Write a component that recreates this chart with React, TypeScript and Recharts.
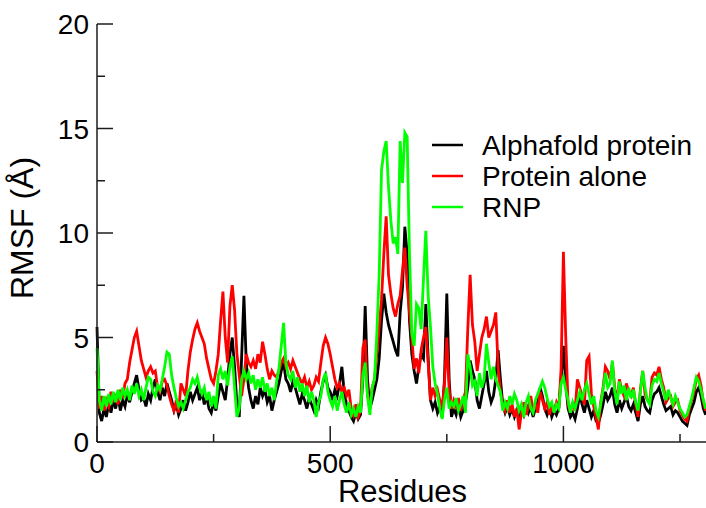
import { LineChart, Line, XAxis, YAxis, Legend } from "recharts";

// RMSF per residue, sampled every 5 residues (0 ... 1305)
const alphafold = [
  5.5, 1.4, 1.0, 1.6, 1.2, 1.8, 1.4, 2.0, 1.6, 2.2, 1.5, 2.0, 1.7, 2.3, 1.9, 2.4, 2.8, 3.2, 2.5, 2.0,
  2.1, 1.7, 2.3, 2.0, 2.6, 3.0, 2.4, 2.0, 2.6, 2.2, 2.8, 2.4, 2.0, 1.5, 1.8, 1.3, 1.6, 2.0, 1.5, 1.9,
  2.4, 2.0, 2.3, 2.6, 2.0, 2.4, 1.8, 2.2, 1.6, 1.4, 1.9, 1.5, 2.2, 2.8, 2.4, 2.0, 3.0, 4.2, 5.0, 3.6,
  1.8, 1.2, 4.0, 7.0, 3.8, 2.6, 2.0, 1.6, 2.2, 1.8, 2.6, 2.2, 2.5, 1.9, 2.2, 1.5, 2.0, 2.4, 2.8, 3.4,
  3.8, 3.0, 2.8, 2.4, 2.9, 2.6, 2.2, 1.8, 2.3, 2.0, 1.6, 2.1, 1.8, 1.5, 2.0, 1.7, 2.4, 2.9, 3.2, 2.6,
  2.4, 2.0, 2.5, 2.2, 2.8, 3.6, 2.4, 1.8, 1.5, 1.2, 1.0, 1.4, 1.1, 1.3, 3.0, 6.5, 3.0, 1.6, 2.0, 2.5,
  3.0, 4.0, 5.8, 7.1, 6.2, 5.6, 5.2, 4.8, 4.4, 4.1, 6.2, 7.4, 10.3, 9.0, 5.8, 4.2, 3.4, 2.8, 3.6, 4.2,
  4.0, 6.6, 4.0, 2.0, 1.6, 1.9, 1.4, 1.7, 1.2, 3.0, 7.1, 3.0, 1.2, 1.6, 1.3, 1.8, 1.2, 1.5, 1.9, 2.6,
  3.9, 3.4, 3.0, 2.0, 1.6, 2.2, 2.8, 3.4, 2.4, 1.9, 2.2, 3.0, 4.4, 3.0, 1.8, 1.4, 1.7, 1.3, 1.6, 1.2,
  1.5, 1.1, 1.6, 1.3, 1.8, 1.4, 1.7, 1.2, 1.6, 1.9, 2.6, 2.2, 1.6, 1.3, 1.7, 1.2, 1.5, 1.3, 1.6, 3.0,
  4.6, 2.8, 1.6, 1.2, 1.4, 1.1, 1.6, 2.3, 1.8, 1.4, 2.0, 1.6, 1.2, 1.5, 1.0, 0.9, 1.3, 1.8, 2.4, 2.0,
  2.2, 2.6, 1.8, 1.4, 2.0, 1.6, 1.9, 2.2, 1.7, 1.5, 1.8, 1.4, 1.0, 1.8, 2.2, 1.7, 1.5, 1.4, 2.0, 2.3,
  2.4, 2.6, 2.2, 1.8, 1.5, 1.6, 1.7, 1.3, 1.5, 1.4, 1.2, 1.0, 0.9, 0.8, 1.3, 1.6, 1.9, 2.4, 2.6, 2.2, 1.6, 1.3,
];

const proteinAlone = [
  3.4, 1.6, 2.2, 1.5, 2.0, 1.7, 2.4, 1.9, 2.3, 1.8, 2.5, 2.1, 2.8, 3.0, 3.8, 4.4, 5.0, 5.3, 4.6, 3.9,
  3.5, 3.1, 3.4, 3.6, 3.3, 3.4, 2.6, 2.4, 2.9, 3.0, 2.7, 2.2, 1.8, 1.5, 2.0, 1.4, 2.8, 2.5, 2.2, 3.4,
  4.3, 4.9, 5.4, 5.7, 5.3, 5.0, 4.7, 4.0, 3.5, 3.0, 2.8, 3.4, 4.2, 5.8, 7.2, 5.0, 3.8, 6.5, 7.5, 6.3,
  4.2, 3.2, 2.2, 3.0, 4.2, 3.8, 3.6, 3.9, 3.5, 4.2, 3.8, 4.8, 4.2, 3.5, 3.0, 3.4, 3.2, 3.1, 3.4, 3.8,
  4.0, 3.6, 3.8, 3.5, 3.9, 3.6, 3.3, 3.0, 2.8, 3.1, 2.6, 2.9, 2.5, 2.7, 3.1, 2.9, 3.8, 4.6, 5.0, 4.7,
  4.2, 3.6, 3.0, 2.6, 2.8, 2.4, 2.6, 2.2, 2.5, 1.6, 1.3, 1.8, 1.2, 1.5, 4.5, 4.9, 2.2, 1.8, 2.6, 3.0,
  4.2, 5.5, 6.8, 9.0, 10.8, 8.0, 7.1, 6.4, 6.0, 6.6, 7.0, 8.2, 9.3, 7.5, 6.2, 5.0, 3.5, 4.0, 3.3, 4.4,
  5.0, 5.5, 3.8, 2.0, 2.6, 2.2, 2.5, 2.0, 1.6, 2.8, 5.0, 2.5, 1.6, 2.0, 1.7, 2.1, 1.5, 2.0, 2.4, 5.4,
  8.0, 5.6, 4.8, 3.4, 4.2, 5.0, 5.4, 6.0, 5.0, 5.3, 5.6, 6.2, 3.6, 2.4, 1.8, 1.5, 2.0, 1.4, 1.8, 1.2,
  1.6, 0.6, 1.4, 1.9, 1.3, 1.7, 2.2, 1.5, 1.8, 1.4, 2.4, 2.0, 1.6, 1.9, 1.3, 1.7, 1.5, 1.9, 1.6, 3.5,
  9.1, 5.0, 1.8, 1.4, 1.9, 1.5, 3.0, 2.6, 2.2, 1.8, 3.9, 4.1, 2.3, 1.7, 1.2, 0.6, 1.9, 2.6, 3.6, 3.4,
  3.0, 3.8, 2.6, 1.9, 3.0, 2.5, 2.2, 2.8, 2.4, 2.2, 2.6, 1.8, 1.2, 2.5, 3.4, 2.3, 2.0, 1.9, 3.1, 3.3,
  3.2, 3.6, 3.0, 2.6, 1.9, 2.1, 2.2, 1.7, 1.9, 2.0, 1.5, 1.3, 1.1, 1.0, 1.6, 2.0, 2.4, 3.0, 3.2, 2.7, 1.9, 1.5,
];

const rnp = [
  4.5, 2.0, 1.5, 2.2, 1.7, 2.3, 1.8, 2.4, 1.9, 2.5, 2.0, 2.6, 2.2, 2.5, 2.0, 2.7, 2.3, 2.8, 2.2, 2.5,
  2.0, 2.6, 3.1, 3.0, 2.4, 2.2, 2.7, 2.5, 3.0, 3.6, 4.3, 4.2, 3.2, 2.6, 2.1, 1.7, 1.9, 1.6, 2.0, 2.4,
  2.6, 3.0, 2.8, 3.1, 2.6, 2.3, 2.6, 2.0, 2.4, 1.7, 2.2, 1.6, 3.2, 3.5, 3.0, 3.4, 2.7, 3.6, 4.1, 2.6,
  1.2, 1.6, 3.0, 3.4, 3.0, 3.3, 2.8, 3.2, 2.5, 3.0, 2.6, 3.1, 2.4, 2.8, 2.2, 2.6, 2.0, 2.9, 3.5, 4.6,
  5.7, 3.8, 3.2, 3.0, 3.4, 2.6, 3.1, 2.4, 2.8, 2.2, 2.7, 1.9, 2.4, 2.0, 1.2, 1.9, 2.2, 3.0, 3.3, 2.4,
  2.0, 1.7, 2.2, 1.5, 2.0, 2.4, 1.8, 1.4, 1.9, 1.3, 1.6, 1.2, 1.7, 1.4, 3.2, 3.8, 2.2, 1.3, 2.6, 3.0,
  5.2, 8.0, 13.0, 13.9, 14.4, 12.2, 10.6, 9.5, 9.8, 9.0, 14.4, 12.4, 14.8, 14.6, 9.0, 5.2, 4.6, 6.6, 6.4, 5.4,
  7.8, 10.1, 7.0, 5.5, 3.6, 2.8, 2.3, 1.6, 1.1, 2.0, 2.6, 1.6, 1.9, 1.7, 2.1, 1.5, 1.8, 2.2, 1.4, 4.2,
  3.6, 2.7, 2.9, 2.2, 3.3, 2.6, 3.0, 4.7, 3.8, 3.0, 3.6, 3.0, 2.7, 2.4, 1.5, 1.9, 1.6, 2.2, 1.8, 2.3,
  2.0, 1.5, 1.8, 1.2, 1.9, 2.2, 1.6, 1.4, 2.0, 2.3, 2.6, 2.9, 2.6, 2.1, 1.7, 1.9, 1.4, 1.8, 1.6, 2.8,
  3.1, 2.5, 2.0, 1.4, 1.9, 1.6, 2.0, 2.4, 2.0, 2.5, 2.8, 2.3, 1.8, 2.2, 1.5, 1.2, 1.8, 2.5, 3.3, 2.6,
  2.8, 3.9, 2.4, 1.8, 2.9, 2.3, 2.7, 2.0, 2.6, 2.1, 2.5, 1.9, 1.5, 2.4, 3.4, 2.6, 2.0, 1.8, 2.7, 3.0,
  2.9, 3.3, 2.8, 2.4, 2.0, 2.5, 2.1, 1.8, 2.2, 1.9, 1.6, 1.4, 1.2, 1.3, 1.7, 2.1, 2.6, 3.1, 2.9, 2.5, 2.0, 1.6,
];

const residueStep = 5;
const xDomain = [0, 1310];
const yDomain = [0, 20];
const xTicks = [0, 250, 500, 750, 1000, 1250];
const yTicks = [0, 2.5, 5, 7.5, 10, 12.5, 15, 17.5, 20];

const data = alphafold.map((v, i) => ({
  residue: i * residueStep,
  alphafold: v,
  alone: proteinAlone[i],
  rnp: rnp[i],
}));

const FONT = "'Liberation Sans', Arial, Helvetica, sans-serif";
const AXIS = "#1c1c1c";
const MAJOR = 16;
const MINOR = 8;
const LINE_W = 2.8;

const BottomTick = (props: any) => {
  const { x, y, payload } = props;
  const major = payload.value % 500 === 0;
  return (
    <g>
      <line x1={x} y1={y} x2={x} y2={y - (major ? MAJOR : MINOR)} stroke={AXIS} strokeWidth={1.5} />
      {major && (
        <text x={x} y={y + 31} textAnchor="middle" fontSize={28} fontFamily={FONT} fill="#000">
          {payload.value}
        </text>
      )}
    </g>
  );
};

const TopTick = (props: any) => {
  const { x, y, payload } = props;
  const major = payload.value % 500 === 0;
  return <line x1={x} y1={y} x2={x} y2={y + (major ? MAJOR : MINOR)} stroke={AXIS} strokeWidth={1.5} />;
};

const LeftTick = (props: any) => {
  const { x, y, payload } = props;
  const major = payload.value % 5 === 0;
  return (
    <g>
      <line x1={x} y1={y} x2={x + (major ? MAJOR : MINOR)} y2={y} stroke={AXIS} strokeWidth={1.5} />
      {major && (
        <text x={x - 8} y={y} dy="0.36em" textAnchor="end" fontSize={28} fontFamily={FONT} fill="#000">
          {payload.value}
        </text>
      )}
    </g>
  );
};

const RightTick = (props: any) => {
  const { x, y, payload } = props;
  const major = payload.value % 5 === 0;
  return <line x1={x} y1={y} x2={x - (major ? MAJOR : MINOR)} y2={y} stroke={AXIS} strokeWidth={1.5} />;
};

const renderLegend = (props: any) => {
  const { payload } = props;
  return (
    <svg width={706} height={508} style={{ position: "absolute", left: 0, top: 0 }}>
      {(payload || []).map((entry: any, i: number) => {
        const ly = 145 + i * 31;
        return (
          <g key={entry.value}>
            <line x1={432} y1={ly} x2={463} y2={ly} stroke={entry.color} strokeWidth={2.5} />
            <text x={482} y={ly + 10} fontSize={28} fontFamily={FONT} fill="#000">
              {entry.value}
            </text>
          </g>
        );
      })}
    </svg>
  );
};

const renderYTitle = () => (
  <text
    x={33}
    y={228}
    transform="rotate(-90, 33, 228)"
    textAnchor="middle"
    fontSize={32}
    fontFamily={FONT}
    fill="#000"
  >
    RMSF (Å)
  </text>
);

export default function App() {
  return (
    <div
      style={{
        position: "fixed",
        left: 0,
        top: 0,
        width: 706,
        height: 508,
        overflow: "hidden",
        background: "#fff",
      }}
    >
      <LineChart width={708} height={508} data={data} margin={{ top: 24, right: 0, bottom: 0, left: 0 }}>
        <XAxis
          dataKey="residue"
          type="number"
          domain={xDomain}
          ticks={xTicks}
          height={66}
          tickSize={0}
          tickMargin={0}
          tickLine={false}
          axisLine={{ stroke: AXIS, strokeWidth: 1.5 }}
          tick={BottomTick}
          label={{ value: "Residues", position: "insideBottom", offset: 6, fontSize: 31, fontFamily: FONT, fill: "#000" }}
        />
        <XAxis
          xAxisId="top"
          orientation="top"
          dataKey="residue"
          type="number"
          domain={xDomain}
          ticks={xTicks}
          height={0}
          tickSize={0}
          tickMargin={0}
          tickLine={false}
          axisLine={{ stroke: AXIS, strokeWidth: 1.5 }}
          tick={TopTick}
        />
        <YAxis
          type="number"
          domain={yDomain}
          ticks={yTicks}
          width={97}
          tickSize={0}
          tickMargin={0}
          tickLine={false}
          axisLine={{ stroke: AXIS, strokeWidth: 1.5 }}
          tick={LeftTick}
          label={{ content: renderYTitle }}
        />
        <YAxis
          yAxisId="right"
          orientation="right"
          type="number"
          domain={yDomain}
          ticks={yTicks}
          width={0}
          tickSize={0}
          tickMargin={0}
          tickLine={false}
          axisLine={{ stroke: AXIS, strokeWidth: 1.5 }}
          tick={RightTick}
        />
        <Legend
          layout="vertical"
          align="center"
          verticalAlign="middle"
          content={renderLegend}
          wrapperStyle={{ position: "absolute", left: 0, top: 0, width: 706, height: 508, pointerEvents: "none" }}
        />
        <Line
          dataKey="alphafold"
          name="Alphafold protein"
          type="linear"
          stroke="#000000"
          strokeWidth={LINE_W}
          strokeLinejoin="miter"
          dot={false}
          isAnimationActive={false}
        />
        <Line
          dataKey="alone"
          name="Protein alone"
          type="linear"
          stroke="#ff0000"
          strokeWidth={LINE_W}
          strokeLinejoin="miter"
          dot={false}
          isAnimationActive={false}
        />
        <Line
          dataKey="rnp"
          name="RNP"
          type="linear"
          stroke="#00ff00"
          strokeWidth={LINE_W}
          strokeLinejoin="miter"
          dot={false}
          isAnimationActive={false}
        />
      </LineChart>
    </div>
  );
}
